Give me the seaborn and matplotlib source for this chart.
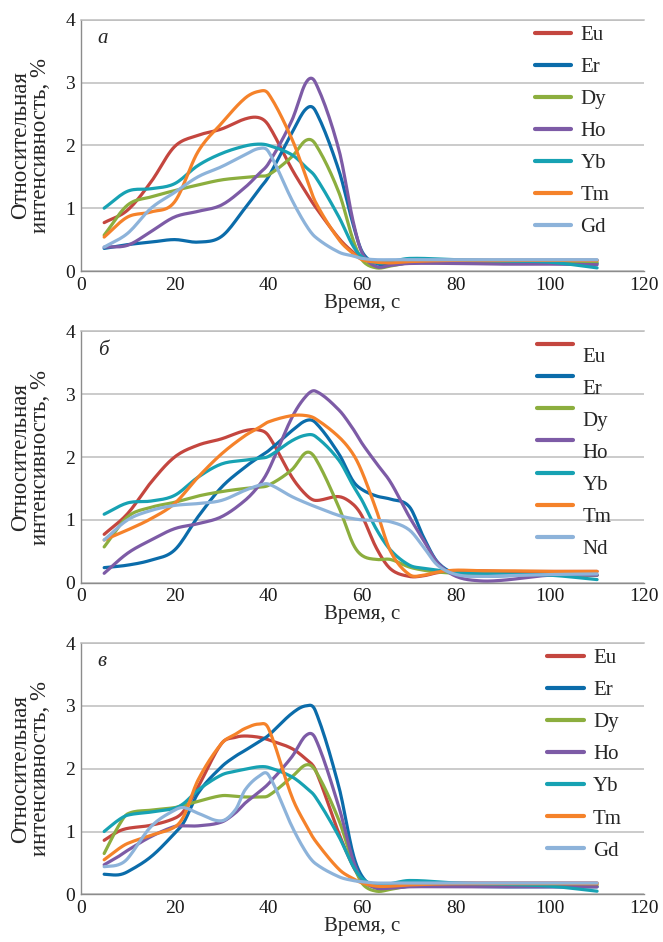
import numpy as np
import pandas as pd
import matplotlib
matplotlib.use("Agg")
import matplotlib.pyplot as plt
import matplotlib.transforms as mtransforms
import seaborn as sns

# --- données ---
colors = {
    "Eu": "#C4463F", "Er": "#0B6CAA", "Dy": "#8CAE3E", "Ho": "#7D5BA6",
    "Yb": "#17A2B3", "Tm": "#F5822A", "Gd": "#8DB3DA", "Nd": "#8DB3DA",
}

# panneau а
time_a = [5, 10, 15, 20, 25, 30, 35, 38, 40, 45, 48, 50, 55, 58, 60, 63, 66, 70, 80, 90, 100, 110]
eu_a = [0.77, 0.97, 1.42, 1.98, 2.16, 2.26, 2.42, 2.44, 2.32, 1.62, 1.25, 1.02, 0.52, 0.3, 0.2, 0.16, 0.16, 0.17, 0.17, 0.17, 0.17, 0.17]
er_a = [0.36, 0.42, 0.46, 0.5, 0.46, 0.55, 1.0, 1.3, 1.5, 2.2, 2.58, 2.55, 1.6, 0.75, 0.3, 0.12, 0.1, 0.13, 0.13, 0.12, 0.12, 0.12]
dy_a = [0.57, 1.05, 1.18, 1.28, 1.37, 1.45, 1.49, 1.51, 1.53, 1.82, 2.08, 2.02, 1.25, 0.5, 0.17, 0.05, 0.08, 0.13, 0.14, 0.14, 0.14, 0.14]
ho_a = [0.38, 0.41, 0.63, 0.86, 0.95, 1.05, 1.33, 1.55, 1.71, 2.4, 3.0, 3.0, 1.93, 0.8, 0.28, 0.07, 0.09, 0.12, 0.12, 0.11, 0.11, 0.1]
yb_a = [1.0, 1.27, 1.31, 1.39, 1.68, 1.87, 1.99, 2.02, 2.0, 1.85, 1.65, 1.5, 0.86, 0.4, 0.22, 0.13, 0.15, 0.2, 0.18, 0.16, 0.14, 0.05]
tm_a = [0.54, 0.86, 0.94, 1.1, 1.9, 2.35, 2.75, 2.86, 2.82, 2.1, 1.5, 1.1, 0.5, 0.28, 0.18, 0.14, 0.13, 0.15, 0.17, 0.17, 0.17, 0.17]
gd_a = [0.38, 0.6, 1.0, 1.25, 1.5, 1.66, 1.85, 1.95, 1.9, 1.13, 0.73, 0.54, 0.3, 0.24, 0.2, 0.18, 0.18, 0.18, 0.18, 0.18, 0.18, 0.18]

# panneau б
time_b = [5, 10, 15, 20, 25, 30, 35, 38, 40, 45, 48, 50, 55, 58, 60, 63, 66, 70, 73, 76, 80, 85, 90, 100, 110]
eu_b = [0.77, 1.1, 1.6, 2.0, 2.19, 2.29, 2.42, 2.43, 2.34, 1.68, 1.4, 1.31, 1.37, 1.25, 1.05, 0.55, 0.22, 0.1, 0.11, 0.16, 0.19, 0.19, 0.18, 0.18, 0.18]
er_b = [0.24, 0.28, 0.36, 0.52, 1.05, 1.52, 1.84, 2.0, 2.1, 2.42, 2.58, 2.55, 2.05, 1.62, 1.48, 1.38, 1.33, 1.21, 0.73, 0.33, 0.14, 0.11, 0.11, 0.14, 0.12]
dy_b = [0.57, 1.05, 1.2, 1.28, 1.38, 1.45, 1.5, 1.52, 1.55, 1.8, 2.07, 1.98, 1.2, 0.62, 0.43, 0.37, 0.37, 0.25, 0.2, 0.17, 0.15, 0.13, 0.12, 0.12, 0.12]
ho_b = [0.15, 0.47, 0.68, 0.86, 0.94, 1.05, 1.31, 1.55, 1.79, 2.63, 2.97, 3.05, 2.75, 2.45, 2.21, 1.9, 1.6, 1.05, 0.68, 0.32, 0.1, 0.03, 0.04, 0.12, 0.12]
yb_b = [1.09, 1.27, 1.3, 1.39, 1.68, 1.89, 1.95, 1.98, 2.01, 2.26, 2.35, 2.33, 1.95, 1.55, 1.3, 0.85, 0.52, 0.28, 0.23, 0.2, 0.16, 0.15, 0.14, 0.12, 0.05]
tm_b = [0.68, 0.84, 1.02, 1.26, 1.68, 2.05, 2.34, 2.47, 2.56, 2.66, 2.66, 2.61, 2.32, 2.05, 1.75, 1.15, 0.5, 0.13, 0.12, 0.17, 0.2, 0.19, 0.19, 0.18, 0.18]
nd_b = [0.68, 1.0, 1.15, 1.23, 1.26, 1.31, 1.47, 1.55, 1.57, 1.37, 1.27, 1.21, 1.07, 1.02, 1.0, 0.99, 0.97, 0.84, 0.57, 0.28, 0.13, 0.1, 0.11, 0.13, 0.14]

# panneau в
time_c = [5, 8, 10, 15, 20, 22, 25, 30, 33, 35, 38, 40, 45, 48, 50, 55, 58, 60, 63, 66, 70, 80, 90, 100, 110]
eu_c = [0.86, 1.0, 1.05, 1.1, 1.21, 1.33, 1.71, 2.4, 2.5, 2.52, 2.5, 2.46, 2.32, 2.15, 1.98, 0.97, 0.45, 0.23, 0.15, 0.16, 0.17, 0.18, 0.18, 0.18, 0.18]
er_c = [0.32, 0.31, 0.36, 0.6, 0.97, 1.15, 1.61, 2.03, 2.2, 2.29, 2.43, 2.53, 2.88, 3.0, 2.92, 1.71, 0.65, 0.28, 0.1, 0.1, 0.13, 0.13, 0.12, 0.12, 0.12]
dy_c = [0.65, 1.08, 1.28, 1.34, 1.38, 1.42, 1.48, 1.57, 1.56, 1.55, 1.55, 1.57, 1.87, 2.06, 1.97, 1.18, 0.5, 0.17, 0.05, 0.08, 0.13, 0.15, 0.15, 0.15, 0.15]
ho_c = [0.47, 0.6, 0.7, 0.92, 1.08, 1.09, 1.09, 1.15, 1.3, 1.45, 1.63, 1.76, 2.19, 2.53, 2.48, 1.39, 0.55, 0.23, 0.1, 0.1, 0.12, 0.12, 0.12, 0.12, 0.12]
yb_c = [1.0, 1.18, 1.26, 1.31, 1.37, 1.45, 1.66, 1.9, 1.96, 1.99, 2.03, 2.02, 1.87, 1.7, 1.55, 0.92, 0.45, 0.25, 0.14, 0.17, 0.22, 0.18, 0.16, 0.13, 0.05]
tm_c = [0.55, 0.72, 0.81, 0.94, 1.07, 1.25, 1.82, 2.4, 2.55, 2.64, 2.71, 2.64, 1.55, 1.1, 0.85, 0.4, 0.25, 0.18, 0.13, 0.13, 0.15, 0.17, 0.17, 0.17, 0.17]
gd_c = [0.44, 0.47, 0.57, 1.08, 1.34, 1.38, 1.29, 1.17, 1.35, 1.66, 1.88, 1.9, 1.08, 0.67, 0.49, 0.28, 0.22, 0.2, 0.18, 0.18, 0.18, 0.18, 0.18, 0.18, 0.18]

panels = [
    ("а", time_a, {"Eu": eu_a, "Er": er_a, "Dy": dy_a, "Ho": ho_a, "Yb": yb_a, "Tm": tm_a, "Gd": gd_a}),
    ("б", time_b, {"Eu": eu_b, "Er": er_b, "Dy": dy_b, "Ho": ho_b, "Yb": yb_b, "Tm": tm_b, "Nd": nd_b}),
    ("в", time_c, {"Eu": eu_c, "Er": er_c, "Dy": dy_c, "Ho": ho_c, "Yb": yb_c, "Tm": tm_c, "Gd": gd_c}),
]


def smooth_line(x, y, n=12):
    # tracé lissé (Hermite cubique) entre les points lus, comme la courbe lissée d'Excel
    x = np.asarray(x, float)
    y = np.asarray(y, float)
    m = np.empty_like(y)
    m[1:-1] = (y[2:] - y[:-2]) / (x[2:] - x[:-2])
    m[0] = (y[1] - y[0]) / (x[1] - x[0])
    m[-1] = (y[-1] - y[-2]) / (x[-1] - x[-2])
    t = np.linspace(0, 1, n, endpoint=False)
    h00 = 2 * t ** 3 - 3 * t ** 2 + 1
    h10 = t ** 3 - 2 * t ** 2 + t
    h01 = -2 * t ** 3 + 3 * t ** 2
    h11 = t ** 3 - t ** 2
    xs, ys = [], []
    for i in range(len(x) - 1):
        h = x[i + 1] - x[i]
        xs.append(x[i] + t * h)
        ys.append(h00 * y[i] + h10 * h * m[i] + h01 * y[i + 1] + h11 * h * m[i + 1])
    xs.append(x[-1:])
    ys.append(y[-1:])
    return np.concatenate(xs), np.concatenate(ys)


sns.set_style("white")
plt.rcParams["font.family"] = ["Liberation Serif", "DejaVu Serif"]
plt.rcParams["font.size"] = 15

fig = plt.figure(figsize=(6.63, 9.42), dpi=100)
boxes = [(0.1217, 0.7123), (0.1217, 0.3814), (0.1217, 0.0506)]
legend_x = [0.806, 0.810, 0.828]

for (letter, times, series), (left, bottom), lx in zip(panels, boxes, legend_x):
    ax = fig.add_axes([left, bottom, 0.8497, 0.2668])
    rows = []
    for name, vals in series.items():
        sx, sy = smooth_line(times, vals)
        rows.append(pd.DataFrame({"Время": sx, "Интенсивность": sy, "Элемент": name}))
    df = pd.concat(rows, ignore_index=True)
    names = list(series.keys())
    sns.lineplot(data=df, x="Время", y="Интенсивность", hue="Элемент", hue_order=names,
                 palette=[colors[n] for n in names], sort=False, estimator=None,
                 linewidth=2.3, ax=ax)

    ax.set_xlim(0, 120)
    ax.set_ylim(0, 4)
    ax.set_xticks(range(0, 121, 20))
    ax.set_yticks(range(0, 5))
    ax.grid(axis="y", color="#BDBDBD", linewidth=1.1)
    ax.grid(axis="x", visible=False)
    ax.tick_params(length=0, labelsize=14, colors="#1A1A1A", pad=4)
    for side in ["left", "bottom"]:
        ax.spines[side].set_color("#8C8C8C")
        ax.spines[side].set_linewidth(1.0)
    ax.spines["right"].set_visible(False)
    ax.spines["top"].set_color("#BDBDBD")
    ax.spines["top"].set_linewidth(1.1)

    ax.set_xlabel("Время, с", fontsize=15, labelpad=0)
    ax.set_ylabel("Относительная\nинтенсивность, %", fontsize=16.5, labelpad=10, linespacing=0.98)
    ax.text(0.03, 0.925, letter, transform=ax.transAxes, fontsize=15, style="italic",
            va="center", ha="left")

    handles, labels = ax.get_legend_handles_labels()
    leg = ax.legend(handles, labels, loc="upper left", bbox_to_anchor=(lx, 0.978),
                    frameon=False, borderpad=0, borderaxespad=0, handlelength=1.75,
                    handletextpad=0.45, labelspacing=0.6, fontsize=15)
    for h in leg.legend_handles:
        h.set_linewidth(3.0)
    if letter == "б":
        # подписи легенды смещены вниз относительно линий
        shift = mtransforms.ScaledTranslation(0, -0.10, fig.dpi_scale_trans)
        for txt in leg.get_texts():
            txt.set_transform(txt.get_transform() + shift)

fig.savefig("out.png", dpi=100)
